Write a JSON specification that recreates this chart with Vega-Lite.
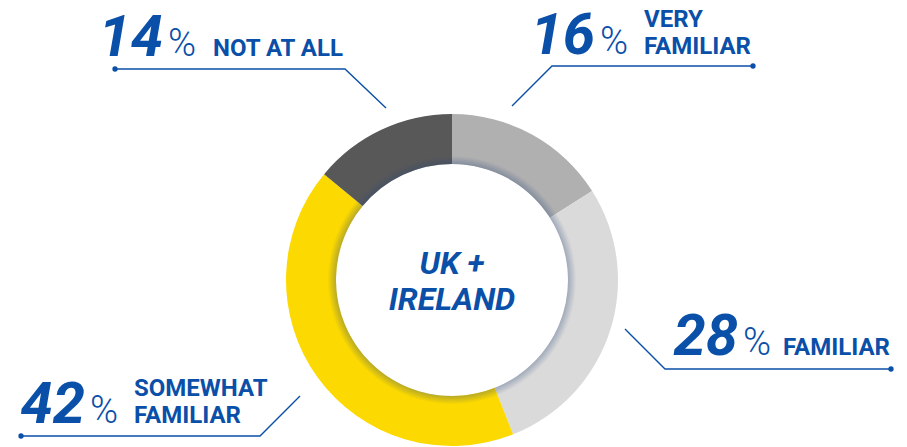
{
  "$schema": "https://vega.github.io/schema/vega-lite/v6.json",
  "width": 907,
  "height": 447,
  "autosize": {"type": "fit", "contains": "padding"},
  "padding": 0,
  "background": "white",
  "config": {"view": {"stroke": null}},
  "datasets": {
    "segments": [
      {"category": "Very familiar", "percent": 16, "order": 1},
      {"category": "Familiar", "percent": 28, "order": 2},
      {"category": "Somewhat familiar", "percent": 42, "order": 3},
      {"category": "Not at all", "percent": 14, "order": 4}
    ],
    "leaders": [
      {"category": "Not at all", "step": 1, "x": -337, "y": 211},
      {"category": "Not at all", "step": 2, "x": -107, "y": 211},
      {"category": "Not at all", "step": 3, "x": -66, "y": 172},
      {"category": "Very familiar", "step": 1, "x": 301, "y": 214},
      {"category": "Very familiar", "step": 2, "x": 100, "y": 214},
      {"category": "Very familiar", "step": 3, "x": 60, "y": 174},
      {"category": "Familiar", "step": 1, "x": 439, "y": -89},
      {"category": "Familiar", "step": 2, "x": 213, "y": -89},
      {"category": "Familiar", "step": 3, "x": 173, "y": -49},
      {"category": "Somewhat familiar", "step": 1, "x": -431, "y": -156},
      {"category": "Somewhat familiar", "step": 2, "x": -192, "y": -156},
      {"category": "Somewhat familiar", "step": 3, "x": -152, "y": -116}
    ],
    "labels": [
      {"text": "14", "role": "number", "x": -289, "y": 224},
      {"text": "%", "role": "pct", "x": -284, "y": 224},
      {"text": "NOT AT ALL", "role": "label", "x": -239, "y": 224},
      {"text": "16", "role": "number", "x": 143, "y": 226},
      {"text": "%", "role": "pct", "x": 148, "y": 226},
      {"text": "VERY", "role": "label", "x": 192, "y": 253},
      {"text": "FAMILIAR", "role": "label", "x": 192, "y": 226},
      {"text": "28", "role": "number", "x": 286, "y": -75},
      {"text": "%", "role": "pct", "x": 291, "y": -75},
      {"text": "FAMILIAR", "role": "label", "x": 331, "y": -75},
      {"text": "42", "role": "number", "x": -367, "y": -143},
      {"text": "%", "role": "pct", "x": -362, "y": -143},
      {"text": "SOMEWHAT", "role": "label", "x": -318, "y": -116},
      {"text": "FAMILIAR", "role": "label", "x": -318, "y": -143},
      {"text": "UK +", "role": "center", "x": 0, "y": 6},
      {"text": "IRELAND", "role": "center", "x": 0, "y": -30}
    ]
  },
  "layer": [
    {
      "data": {"name": "segments"},
      "mark": {"type": "arc", "outerRadius": 166, "innerRadius": 116},
      "encoding": {
        "theta": {"field": "percent", "type": "quantitative", "stack": true},
        "order": {"field": "order", "type": "quantitative"},
        "color": {
          "field": "category",
          "type": "nominal",
          "scale": {
            "domain": ["Very familiar", "Familiar", "Somewhat familiar", "Not at all"],
            "range": ["#b0b0b0", "#dadada", "#fcd900", "#585858"]
          },
          "legend": null
        },
        "x": {"datum": 0, "type": "quantitative", "scale": {"domain": [-452, 455], "nice": false, "zero": false}, "axis": null},
        "y": {"datum": 0, "type": "quantitative", "scale": {"domain": [-167, 280], "nice": false, "zero": false}, "axis": null}
      }
    },
    {
      "data": {"values": [{"ring": "shadow"}]},
      "mark": {
        "type": "arc",
        "theta": 0,
        "theta2": 6.2832,
        "innerRadius": 116,
        "outerRadius": 140,
        "fill": {
          "gradient": "radial",
          "x1": 0.5, "y1": 0.5, "r1": 0.414,
          "x2": 0.5, "y2": 0.5, "r2": 0.5,
          "stops": [
            {"offset": 0, "color": "rgba(40,70,120,0.32)"},
            {"offset": 0.35, "color": "rgba(40,70,120,0.0)"},
            {"offset": 1, "color": "rgba(40,70,120,0.0)"}
          ]
        }
      },
      "encoding": {
        "x": {"datum": 0, "type": "quantitative"},
        "y": {"datum": 0, "type": "quantitative"}
      }
    },
    {
      "data": {"name": "leaders"},
      "mark": {"type": "line", "color": "#0a4fa8", "strokeWidth": 1.4},
      "encoding": {
        "x": {"field": "x", "type": "quantitative"},
        "y": {"field": "y", "type": "quantitative"},
        "detail": {"field": "category"},
        "order": {"field": "step", "type": "quantitative"}
      }
    },
    {
      "data": {"name": "leaders"},
      "transform": [{"filter": "datum.step == 1"}],
      "mark": {"type": "point", "filled": true, "color": "#0a4fa8", "size": 28, "opacity": 1},
      "encoding": {
        "x": {"field": "x", "type": "quantitative"},
        "y": {"field": "y", "type": "quantitative"}
      }
    },
    {
      "data": {"name": "labels"},
      "transform": [{"filter": "datum.role == 'number'"}],
      "mark": {"type": "text", "align": "right", "baseline": "alphabetic", "font": "Roboto", "fontSize": 58, "fontWeight": "bold", "fontStyle": "italic", "color": "#0a4fa8"},
      "encoding": {
        "x": {"field": "x", "type": "quantitative"},
        "y": {"field": "y", "type": "quantitative"},
        "text": {"field": "text"}
      }
    },
    {
      "data": {"name": "labels"},
      "transform": [{"filter": "datum.role == 'pct'"}],
      "mark": {"type": "text", "align": "left", "baseline": "alphabetic", "font": "Roboto", "fontSize": 38, "fontWeight": 300, "color": "#0a4fa8"},
      "encoding": {
        "x": {"field": "x", "type": "quantitative"},
        "y": {"field": "y", "type": "quantitative"},
        "text": {"field": "text"}
      }
    },
    {
      "data": {"name": "labels"},
      "transform": [{"filter": "datum.role == 'label'"}],
      "mark": {"type": "text", "align": "left", "baseline": "alphabetic", "font": "Roboto", "fontSize": 24, "fontWeight": "bold", "color": "#0a4fa8"},
      "encoding": {
        "x": {"field": "x", "type": "quantitative"},
        "y": {"field": "y", "type": "quantitative"},
        "text": {"field": "text"}
      }
    },
    {
      "data": {"name": "labels"},
      "transform": [{"filter": "datum.role == 'center'"}],
      "mark": {"type": "text", "align": "center", "baseline": "alphabetic", "font": "Roboto", "fontSize": 32, "fontWeight": "bold", "fontStyle": "italic", "color": "#0a4fa8"},
      "encoding": {
        "x": {"field": "x", "type": "quantitative"},
        "y": {"field": "y", "type": "quantitative"},
        "text": {"field": "text"}
      }
    }
  ]
}
